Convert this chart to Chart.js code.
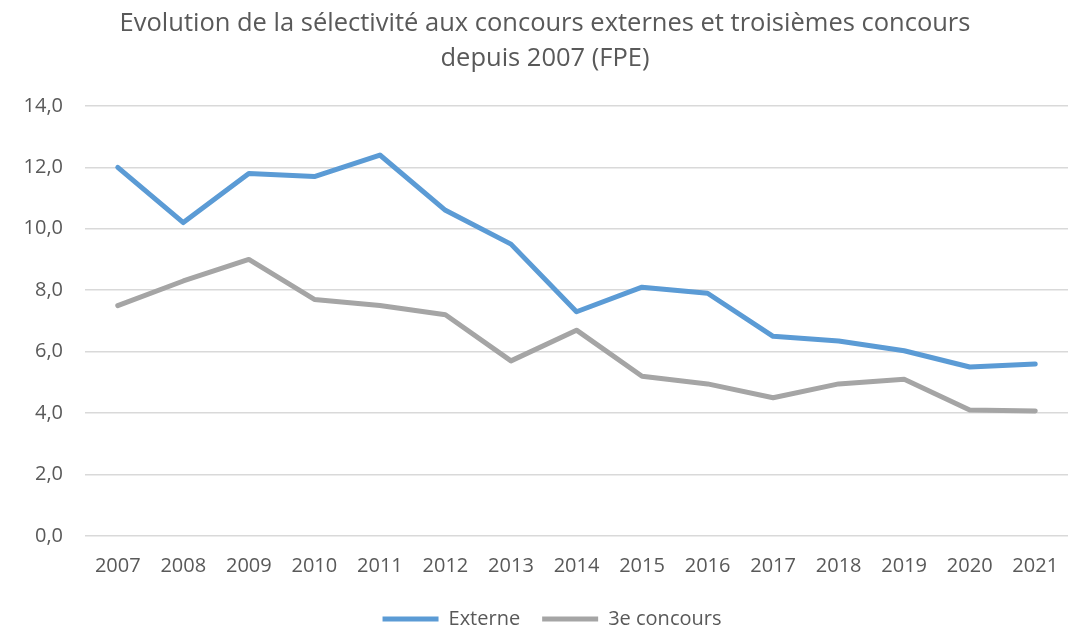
<!DOCTYPE html>
<html>
<head>
<meta charset="utf-8">
<script src="https://cdn.jsdelivr.net/npm/chart.js@4.4.1/dist/chart.umd.min.js"></script>
<style>
  html, body { margin: 0; padding: 0; background: #fff; }
  #wrap { width: 1073px; height: 629px; }
</style>
</head>
<body>
<div id="wrap"><canvas id="chart" width="1073" height="629"></canvas></div>
<script>
// Data
const years = ['2007', '2008', '2009', '2010', '2011', '2012', '2013', '2014', '2015', '2016', '2017', '2018', '2019', '2020', '2021'];
const externe = [12.0, 10.2, 11.8, 11.7, 12.4, 10.6, 9.5, 7.3, 8.1, 7.9, 6.5, 6.35, 6.03, 5.5, 5.6];
const troisieme = [7.5, 8.3, 9.0, 7.7, 7.5, 7.2, 5.7, 6.7, 5.2, 4.95, 4.5, 4.95, 5.1, 4.1, 4.07];
const yTicks = [0, 2, 4, 6, 8, 10, 12, 14];
const titleLines = ['Evolution de la sélectivité aux concours externes et troisièmes concours', 'depuis 2007 (FPE)'];

const FONT = '"Open Sans", Lato, sans-serif';
const TEXT = '#595959';

// nudge legend and title a bit, like the original
const boxNudge = {
  id: 'boxNudge',
  afterLayout(chart) {
    const lg = chart.legend;
    lg.left += 13; lg.right += 13;
    lg.top -= 1; lg.bottom -= 1;
    const tb = chart.titleBlock;
    tb.left += 6; tb.right += 6;
  }
};

new Chart(document.getElementById('chart').getContext('2d'), {
  type: 'line',
  data: {
    labels: years,
    datasets: [
      { label: 'Externe', data: externe, borderColor: '#5b9bd5', backgroundColor: '#5b9bd5', borderWidth: 5, pointRadius: 0, tension: 0, borderCapStyle: 'round', borderJoinStyle: 'round' },
      { label: '3e concours', data: troisieme, borderColor: '#a5a5a5', backgroundColor: '#a5a5a5', borderWidth: 5, pointRadius: 0, tension: 0, borderCapStyle: 'round', borderJoinStyle: 'round' }
    ]
  },
  options: {
    responsive: false,
    animation: false,
    layout: { padding: { top: 6, right: 5, left: 10, bottom: -11 } },
    plugins: {
      title: {
        display: true,
        text: titleLines,
        color: TEXT,
        font: { family: FONT, size: 25.5, weight: 'normal', lineHeight: 1.37 },
        padding: { top: 0, bottom: 30 }
      },
      legend: {
        position: 'bottom',
        labels: {
          color: TEXT,
          font: { family: FONT, size: 20 },
          usePointStyle: true,
          pointStyleWidth: 56,
          pointStyle: 'line',
          padding: 22
        }
      },
      tooltip: { enabled: false }
    },
    scales: {
      x: {
        offset: true,
        grid: { display: false },
        border: { display: false },
        ticks: { color: TEXT, font: { family: FONT, size: 20 }, padding: 10, maxRotation: 0 }
      },
      y: {
        min: 0,
        max: 14,
        afterBuildTicks: axis => { axis.ticks = yTicks.map(v => ({ value: v })); },
        afterFit: axis => { axis.width = 75; },
        grid: { color: '#d9d9d9', lineWidth: 1.5, drawTicks: false },
        border: { display: false },
        ticks: {
          color: TEXT,
          font: { family: FONT, size: 20 },
          padding: 22,
          callback: v => v.toFixed(1).replace('.', ',')
        }
      }
    }
  },
  plugins: [boxNudge]
});
</script>
</body>
</html>
